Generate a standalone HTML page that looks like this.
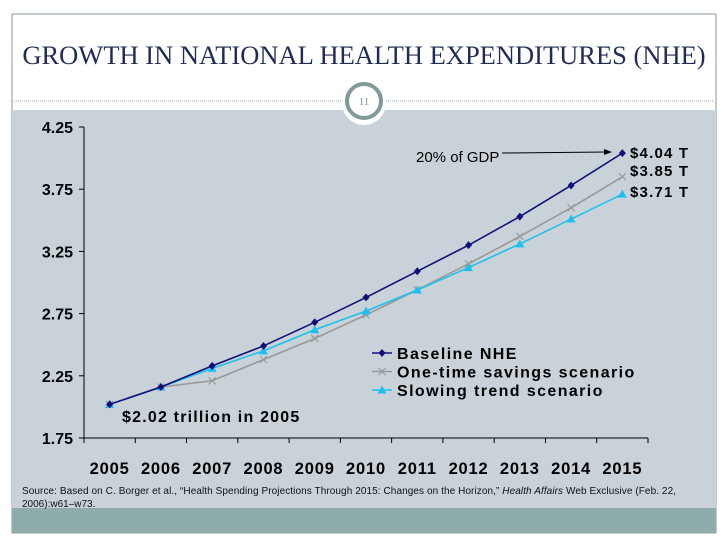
<!DOCTYPE html>
<html><head><meta charset="utf-8"><style>
body{margin:0;width:728px;height:546px;background:#fff;overflow:hidden;font-family:"Liberation Sans",sans-serif;}
</style></head><body>
<svg width="728" height="546">
<rect x="12" y="14" width="704" height="519" fill="#fff" stroke="#8a9a9a" stroke-width="1"/>
<text x="364" y="64" text-anchor="middle" font-family="Liberation Serif,serif" font-size="26.5" fill="#1f2d55">GROWTH IN NATIONAL HEALTH EXPENDITURES (NHE)</text>
<rect x="12" y="110" width="704" height="398" fill="#c8d2d8"/>
<rect x="12" y="508" width="704" height="25" fill="#8eacab"/>
<line x1="14" y1="101" x2="714" y2="101" stroke="#9aa" stroke-dasharray="1,1"/>
<circle cx="364" cy="103" r="22" fill="#fff"/>
<circle cx="364" cy="101" r="17" fill="#fff" stroke="#7f9a98" stroke-width="4"/>
<text x="364" y="105" text-anchor="middle" font-family="Liberation Serif,serif" font-size="11" fill="#7f9a98">11</text>
<g id="chart"></g>
<text x="22" y="494" font-size="10" fill="#111" textLength="654">Source: Based on C. Borger et al., “Health Spending Projections Through 2015: Changes on the Horizon,” <tspan font-style="italic">Health Affairs</tspan> Web Exclusive (Feb. 22,</text>
<text x="22" y="507" font-size="10" fill="#111">2006):w61–w73.</text>
</svg>
<script>
const years=["2005","2006","2007","2008","2009","2010","2011","2012","2013","2014","2015"];
const baseline=[2.02,2.16,2.33,2.49,2.68,2.88,3.09,3.30,3.53,3.78,4.04];
const oneTime=[2.02,2.16,2.21,2.38,2.55,2.74,2.94,3.15,3.37,3.60,3.85];
const slowing=[2.02,2.16,2.31,2.45,2.62,2.77,2.94,3.12,3.31,3.51,3.71];
const yTicks=[1.75,2.25,2.75,3.25,3.75,4.25];
const endLabels=["$4.04 T","$3.85 T","$3.71 T"];
const NS="http://www.w3.org/2000/svg";
const g=document.getElementById('chart');
const x0=84,x1=648,yb=438,yt=127;
const bw=(x1-x0)/years.length;
function X(i){return x0+bw*(i+0.5);}
function Y(v){return yb-(v-1.75)/(4.25-1.75)*(yb-yt);}
function el(t,a){const e=document.createElementNS(NS,t);for(const k in a)e.setAttribute(k,a[k]);g.appendChild(e);return e;}
let e=el('line',{x1:x0,y1:yt,x2:x0,y2:yb,stroke:'#000'});

e=el('line',{x1:x0,y1:yb,x2:x1,y2:yb,stroke:'#000'});

yTicks.forEach(v=>{
 const t=el('line',{x1:x0-5,y1:Y(v),x2:x0,y2:Y(v),stroke:'#000'});
 
 const l=el('text',{x:73,y:Y(v)+6,'text-anchor':'end','font-size':16,'font-weight':'bold'});l.textContent=v.toFixed(2);
 
});
for(let i=0;i<=years.length;i++){const t=el('line',{x1:x0+bw*i,y1:yb,x2:x0+bw*i,y2:yb+5,stroke:'#000'});
 }
years.forEach((y,i)=>{const l=el('text',{x:X(i),y:474,'text-anchor':'middle','font-size':16.5,'font-weight':'bold','letter-spacing':0.8});l.textContent=y;
 });
function marker(type,cx,cy,c){
 if(type==='d')return el('path',{d:`M${cx} ${cy-4}L${cx+3.5} ${cy}L${cx} ${cy+4}L${cx-3.5} ${cy}Z`,fill:c});
 if(type==='x')return el('path',{d:`M${cx-3.5} ${cy-3.5}L${cx+3.5} ${cy+3.5}M${cx+3.5} ${cy-3.5}L${cx-3.5} ${cy+3.5}`,stroke:c,'stroke-width':1.2});
 return el('path',{d:`M${cx} ${cy-4.5}L${cx+4.5} ${cy+3.5}L${cx-4.5} ${cy+3.5}Z`,fill:c});
}
const series=[[oneTime,'#999','x','one-time-savings'],[slowing,'#1ec0ee','t','slowing-trend'],[baseline,'#10107a','d','baseline-nhe']];
series.forEach(([d,c,m,n])=>{
 const p=el('polyline',{points:d.map((v,i)=>X(i)+','+Y(v)).join(' '),fill:'none',stroke:c,'stroke-width':1.6});
 
 d.forEach((v,i)=>{const k=marker(m,X(i),Y(v),c);});
});
[baseline,oneTime,slowing].forEach((d,j)=>{
 const yy=[Y(d[10])+5,Y(d[10])-1,Y(d[10])+3][j];
 const l=el('text',{x:630,y:yy,'font-size':15,'font-weight':'bold','letter-spacing':1.2});l.textContent=endLabels[j];
 
});
e=el('text',{x:416,y:162,'font-size':15});e.textContent='20% of GDP';

e=el('line',{x1:502,y1:153,x2:606,y2:152,stroke:'#000'});

e=el('path',{d:'M612 152L604 149L604 155Z',fill:'#000'});

e=el('text',{x:122,y:422,'font-size':16,'font-weight':'bold','letter-spacing':1.2});e.textContent='$2.02 trillion in 2005';

const leg=[['Baseline NHE','#10107a','d'],['One-time savings scenario','#999','x'],['Slowing trend scenario','#1ec0ee','t']];
leg.forEach(([t,c,m],i)=>{const yy=353+i*18.5;
 const ln=el('line',{x1:372,y1:yy,x2:392,y2:yy,stroke:c,'stroke-width':1.6});
 
 const k=marker(m,382,yy,c);
 const l=el('text',{x:397,y:yy+6,'font-size':16,'font-weight':'bold','letter-spacing':1.4});l.textContent=t;
 
});
</script>
</body></html>
